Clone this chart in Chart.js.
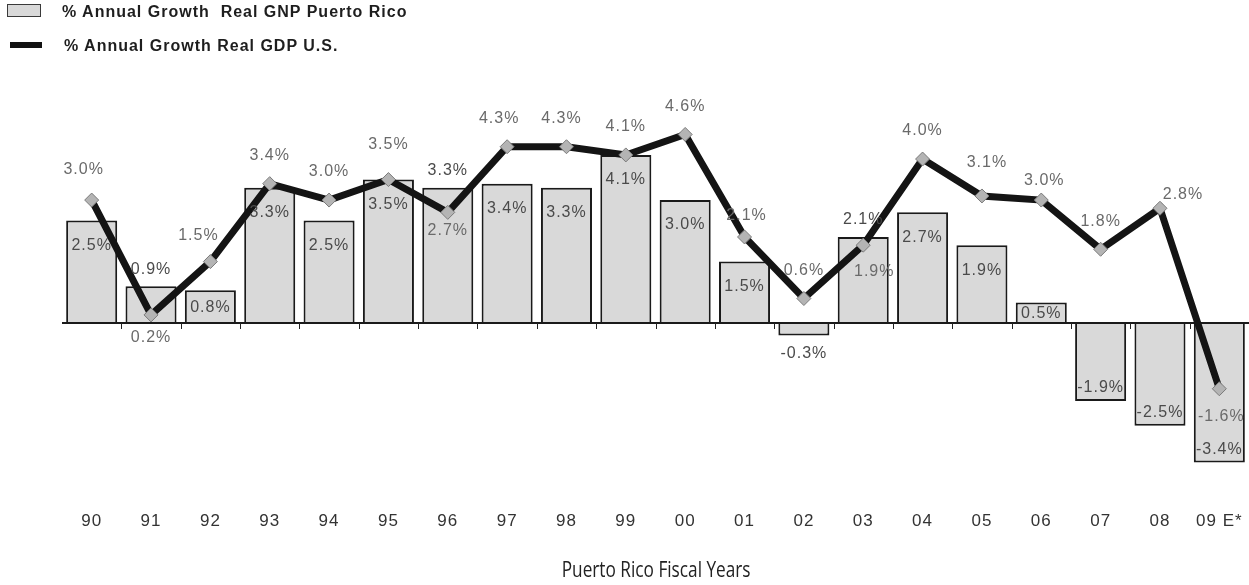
<!DOCTYPE html>
<html>
<head>
<meta charset="utf-8">
<script src="https://cdn.jsdelivr.net/npm/chart.js@4.4.1/dist/chart.umd.min.js"></script>
<style>
  html, body { margin: 0; padding: 0; background: #fff; }
  #wrap { position: relative; width: 1249px; height: 585px; overflow: hidden; }
  #wrap canvas { position: absolute; left: 0; top: 0; }
  .legend-text {
    position: absolute; font: bold 16px "Liberation Sans", Arial, sans-serif;
    letter-spacing: 1px; color: #1e1e1e; white-space: pre; line-height: 16px;
  }
  .swatch { position: absolute; }
  #xTitle {
    position: absolute; left: 0; width: 1312px; top: 555px; text-align: center;
    font: 21px "Open Sans", sans-serif; color: #222; white-space: pre;
  }
  #xTitle span { display: inline-block; transform: scaleX(0.82); }
</style>
</head>
<body>
<div id="wrap">
  <canvas id="growthChart" width="1249" height="585"></canvas>
  <div class="swatch" style="left:7px;top:4px;width:32px;height:11px;background:#d9d9d9;border:1px solid #3a3a3a;"></div>
  <div class="legend-text" style="left:62px;top:4px;">% Annual Growth  Real GNP Puerto Rico</div>
  <div class="swatch" style="left:10px;top:42px;width:32px;height:6px;background:#111;"></div>
  <div class="legend-text" style="left:64px;top:38px;">% Annual Growth Real GDP U.S.</div>
  <div id="xTitle"><span>Puerto Rico Fiscal Years</span></div>
</div>
<script>
// Fiscal years (x categories)
const years = ['90', '91', '92', '93', '94', '95', '96', '97', '98', '99',
               '00', '01', '02', '03', '04', '05', '06', '07', '08', '09 E*'];

// % annual growth, real GNP Puerto Rico (bars)
const prGnp = [2.5, 0.9, 0.8, 3.3, 2.5, 3.5, 3.3, 3.4, 3.3, 4.1,
               3.0, 1.5, -0.3, 2.1, 2.7, 1.9, 0.5, -1.9, -2.5, -3.4];

// % annual growth, real GDP U.S. (line)
const usGdp = [3.0, 0.2, 1.5, 3.4, 3.0, 3.5, 2.7, 4.3, 4.3, 4.1,
               4.6, 2.1, 0.6, 1.9, 4.0, 3.1, 3.0, 1.8, 2.8, -1.6];

// label nudges (dx, dy from the point) where the original moved them
const lineNudge = {
    0: [-8, -30], 1: [0, 23], 2: [-12, -26], 5: [0, -35], 6: [0, 18],
    7: [-8, -28], 8: [-5, -28], 11: [2, -21], 13: [11, 26], 15: [5, -33],
    16: [3, -19], 18: [23, -14], 19: [2, 28]
};
const barAbove = [1, 6, 13];

const fmt = v => v.toFixed(1) + '%';

// value labels for both series
const valueLabels = {
    id: 'valueLabels',
    afterDatasetsDraw(chart) {
        const ctx = chart.ctx;
        ctx.save();
        ctx.font = '16px "Liberation Sans", Arial, sans-serif';
        ctx.letterSpacing = '1px';
        ctx.textAlign = 'center';
        ctx.textBaseline = 'middle';

        // bars
        chart.getDatasetMeta(1).data.forEach((el, i) => {
            const v = prGnp[i];
            const h = Math.abs(el.base - el.y);
            let y;
            if (v >= 0) {
                y = barAbove.includes(i) ? el.y - 17 : el.y + Math.min(25, h / 2 + 1);
            } else {
                y = h < 20 ? el.y + 18 : el.y - 13;
            }
            ctx.fillStyle = '#4a4a4a';
            ctx.fillText(fmt(v), el.x, y);
        });

        // line
        chart.getDatasetMeta(0).data.forEach((el, i) => {
            const [dx, dy] = lineNudge[i] || [0, -28];
            ctx.fillStyle = '#6a6a6a';
            ctx.fillText(fmt(usGdp[i]), el.x + dx, el.y + dy);
        });
        ctx.restore();
    }
};

// small tick marks hanging off the zero line between categories
const zeroTicks = {
    id: 'zeroTicks',
    beforeDatasetsDraw(chart) {
        const { ctx, scales: { x, y } } = chart;
        const y0 = Math.round(y.getPixelForValue(0));
        ctx.save();
        ctx.strokeStyle = '#222';
        ctx.lineWidth = 1;
        ctx.beginPath();
        for (let i = 1; i < years.length; i++) {
            const xb = Math.round((x.getPixelForValue(i - 1) + x.getPixelForValue(i)) / 2) + 0.5;
            ctx.moveTo(xb, y0);
            ctx.lineTo(xb, y0 + 6);
        }
        ctx.stroke();
        ctx.restore();
    }
};

// looser letter spacing for axis text
const spacing = {
    id: 'spacing',
    beforeDraw(chart) { chart.ctx.letterSpacing = '1px'; }
};

const ctx = document.getElementById('growthChart').getContext('2d');

new Chart(ctx, {
    data: {
        labels: years,
        datasets: [
            {
                type: 'line',
                label: '% Annual Growth Real GDP U.S.',
                data: usGdp,
                borderColor: '#141414',
                borderWidth: 7,
                tension: 0,
                pointStyle: 'rectRot',
                pointRadius: 7,
                pointBackgroundColor: '#b4b4b4',
                pointBorderColor: '#7a7a7a',
                pointBorderWidth: 1,
                order: 0
            },
            {
                type: 'bar',
                label: '% Annual Growth  Real GNP Puerto Rico',
                data: prGnp,
                backgroundColor: '#d9d9d9',
                borderColor: '#1a1a1a',
                borderWidth: 2,
                barPercentage: 0.86,
                categoryPercentage: 1,
                order: 1
            }
        ]
    },
    options: {
        responsive: false,
        animation: false,
        events: [],
        layout: { autoPadding: false, padding: { left: 62, right: 0, top: 77, bottom: 45 } },
        plugins: {
            legend: { display: false },
            tooltip: { enabled: false }
        },
        scales: {
            x: {
                grid: { display: false, drawTicks: false },
                border: { display: false },
                afterFit(scale) {
                    scale.paddingLeft = 0;
                    scale.paddingRight = 0;
                },
                ticks: {
                    color: '#333',
                    font: { family: '"Liberation Sans", Arial, sans-serif', size: 17 },
                    padding: 8,
                    maxRotation: 0,
                    autoSkip: false
                }
            },
            y: {
                min: -4.4,
                max: 6,
                ticks: { display: false, stepSize: 1 },
                border: { display: false },
                grid: {
                    drawTicks: false,
                    lineWidth: 2,
                    color: c => (c.tick && c.tick.value === 0 ? '#1a1a1a' : 'rgba(0,0,0,0)')
                }
            }
        }
    },
    plugins: [spacing, zeroTicks, valueLabels]
});
</script>
</body>
</html>
